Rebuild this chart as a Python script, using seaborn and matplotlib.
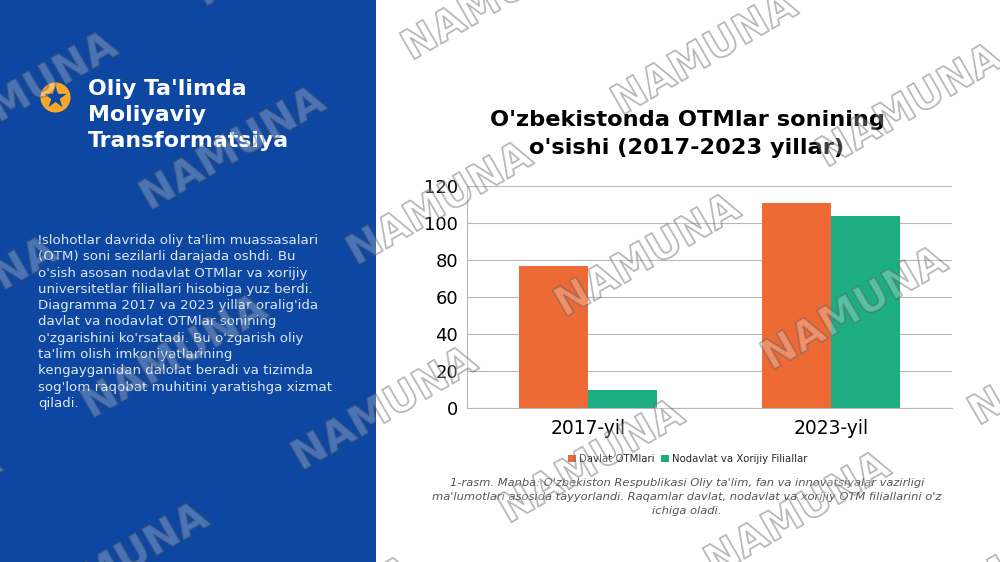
import matplotlib
matplotlib.use('Agg')
import matplotlib.pyplot as plt
import matplotlib.patheffects as pe
import pandas as pd
import seaborn as sns

years = ['2017-yil', '2023-yil']
davlat = [77, 111]
nodavlat = [10, 104]
series_names = ['Davlat OTMlari', 'Nodavlat va Xorijiy Filiallar']

heading = "Oliy Ta'limda\nMoliyaviy\nTransformatsiya"
chart_title = "O'zbekistonda OTMlar sonining\no'sishi (2017-2023 yillar)"
body = ("Islohotlar davrida oliy ta'lim muassasalari\n"
        "(OTM) soni sezilarli darajada oshdi. Bu\n"
        "o'sish asosan nodavlat OTMlar va xorijiy\n"
        "universitetlar filiallari hisobiga yuz berdi.\n"
        "Diagramma 2017 va 2023 yillar oralig'ida\n"
        "davlat va nodavlat OTMlar sonining\n"
        "o'zgarishini ko'rsatadi. Bu o'zgarish oliy\n"
        "ta'lim olish imkoniyatlarining\n"
        "kengayganidan dalolat beradi va tizimda\n"
        "sog'lom raqobat muhitini yaratishga xizmat\n"
        "qiladi.")
caption = ("1-rasm. Manba: O'zbekiston Respublikasi Oliy ta'lim, fan va innovatsiyalar vazirligi\n"
           "ma'lumotlari asosida tayyorlandi. Raqamlar davlat, nodavlat va xorijiy OTM filiallarini o'z\n"
           "ichiga oladi.")

# watermark centres in pixels
mark_x = [288, 495, 705, 910, 1118, 25, 233, 440, 648, 855, 1062,
          -35, 175, 385, 592, 798, 1005, -91, 116, 323]
mark_y = [-54, 0, 55, 107, 163, 95, 150, 205, 257, 310, 365,
          300, 358, 410, 463, 515, 571, 512, 566, 620]

df = pd.DataFrame({
    'year': years * 2,
    'count': davlat + nodavlat,
    'group': [series_names[0]] * 2 + [series_names[1]] * 2,
})

sns.set_theme(style='white')
plt.rcParams['font.family'] = ['DejaVu Sans']

fig = plt.figure(figsize=(10, 5.62), dpi=100, facecolor='white')

# page layer in pixel coordinates
page = fig.add_axes([0, 0, 1, 1], zorder=0)
page.set_xlim(0, 1000)
page.set_ylim(562, 0)
page.axis('off')
page.axvspan(0, 376, color='#0D47A1', lw=0)
page.scatter([55], [97], s=470, color='#F9A72B', lw=0, zorder=2)
page.scatter([55], [97], s=290, marker='*', color='#0D47A1', lw=0, zorder=3)
page.text(88, 115, heading, color='white', fontsize=15.8, fontweight='bold',
          ha='left', va='center', linespacing=1.36)
page.text(38, 322, body, color='#DCE8F5', fontsize=9.65, ha='left', va='center', linespacing=1.33)
page.text(687, 497, caption, color='#555555', fontsize=8.28, style='italic',
          ha='center', va='center', linespacing=1.5)
page.text(687, 134, chart_title, color='black', fontsize=16.2, fontweight='bold',
          ha='center', va='center', linespacing=1.48)

# chart
ax = fig.add_axes([467 / 1000, 1 - 408 / 562, 485 / 1000, 222 / 562], zorder=1)
ax.patch.set_alpha(0)
sns.barplot(data=df, x='year', y='count', hue='group', hue_order=series_names,
            palette=['#ED6A35', '#1CAE80'], width=0.57, gap=0, saturation=1,
            edgecolor='none', linewidth=0, ax=ax)
ax.set_xlim(-0.5, 1.5)
ax.set_ylim(0, 120)
ax.set_yticks(range(0, 121, 20))
ax.set_xlabel('')
ax.set_ylabel('')
ax.set_axisbelow(True)
ax.grid(axis='y', color='#B8B8B8', lw=0.8)
ax.set_xticks([-0.5, 0.5, 1.5], minor=True)
ax.tick_params(axis='x', which='major', length=0, labelsize=13.5, pad=8, colors='black')
ax.tick_params(axis='x', which='minor', length=3, color='#B8B8B8')
ax.tick_params(axis='y', length=0, labelsize=13, pad=6.5, colors='black')
for side in ['top', 'right']:
    ax.spines[side].set_visible(False)
for side in ['left', 'bottom']:
    ax.spines[side].set_color('#B8B8B8')
    ax.spines[side].set_linewidth(0.8)
ax.legend(loc='center', bbox_to_anchor=(0.455, -0.23), ncol=2, frameon=False, fontsize=7.3,
          handlelength=0.8, handleheight=0.8, handletextpad=0.3, columnspacing=0.7)

# watermark on top of everything
top = fig.add_axes([0, 0, 1, 1], zorder=5)
top.set_xlim(0, 1000)
top.set_ylim(562, 0)
top.axis('off')
for x, y in zip(mark_x, mark_y):
    top.text(x, y, 'NAMUNA', family='DejaVu Sans', fontsize=29.5, fontweight='bold',
             color=(1, 1, 1, 0.25), rotation=30, rotation_mode='anchor',
             ha='center', va='center', clip_on=True,
             path_effects=[pe.Stroke(linewidth=1.3, foreground=(0.35, 0.35, 0.38, 0.42))])

fig.savefig('out.png', dpi=100)
